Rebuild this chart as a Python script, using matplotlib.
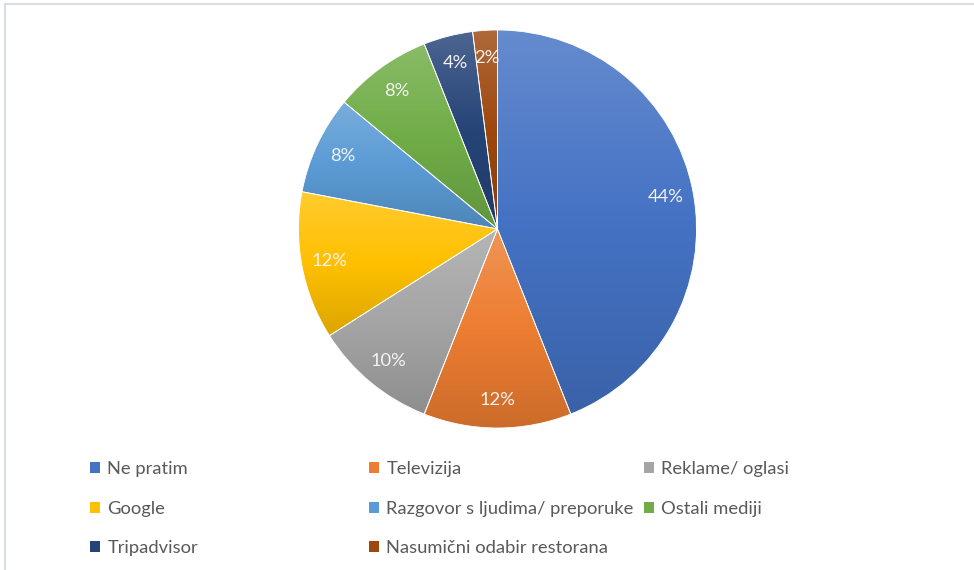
import matplotlib
matplotlib.use("Agg")
import matplotlib.pyplot as plt
import matplotlib.colors as mcolors
from matplotlib.patches import Patch, Rectangle
import numpy as np

# Data
labels = ["Ne pratim", "Televizija", "Reklame/ oglasi", "Google",
          "Razgovor s ljudima/ preporuke", "Ostali mediji", "Tripadvisor",
          "Nasumični odabir restorana"]
values = [44, 12, 10, 12, 8, 8, 4, 2]
colors = ["#4472C4", "#ED7D31", "#A5A5A5", "#FFC000",
          "#5B9BD5", "#70AD47", "#264478", "#9E480E"]

plt.rcParams['font.family'] = ['Lato', 'DejaVu Sans']

W, H = 974, 570
fig = plt.figure(figsize=(W / 100, H / 100), dpi=100)

# pie placement in pixels
cx, cy, r = 497.5, 229, 199
ax = fig.add_axes([(cx - r) / W, (H - cy - r) / H, 2 * r / W, 2 * r / H])

wedges, texts, autotexts = ax.pie(
    values, colors=colors, startangle=90, counterclock=False,
    autopct=lambda p: f"{p:.0f}%", pctdistance=0.86,
    wedgeprops=dict(edgecolor="white", linewidth=0.6),
    textprops=dict(color="#F2F2F2", fontsize=13.2),
)


def gradient_colors(base, n=256):
    """Excel-like vertical gradient: lighter top, base middle, darker bottom"""
    c = np.array(mcolors.to_rgb(base))
    top = c + (1 - c) * 0.18
    bottom = c * 0.86
    t = np.linspace(0, 1, n)[:, None]
    upper = top + (c - top) * np.clip(t * 2, 0, 1)
    lower = c + (bottom - c) * np.clip(t * 2 - 1, 0, 1)
    g = np.where(t < 0.5, upper, lower)
    return g[:, None, :]


# fill each wedge with its own gradient, clipped to the wedge
for w, col in zip(wedges, colors):
    ext = w.get_path().get_extents()
    im = ax.imshow(gradient_colors(col), extent=(ext.x0, ext.x1, ext.y0, ext.y1),
                   origin="upper", aspect="auto", interpolation="bilinear", zorder=0.5)
    im.set_clip_path(w)
    w.set_facecolor("none")

ax.set_xlim(-1, 1)
ax.set_ylim(-1, 1)
ax.set_aspect("equal")
ax.axis("off")

# legend laid out row-major in three equal columns, like the original
col_x = [90 / W, 369 / W, 644 / W]
for c in range(3):
    handles = [Patch(facecolor=colors[i], edgecolor="none") for i in range(c, len(labels), 3)]
    fig.legend(
        handles, labels[c::3], loc="upper left",
        bbox_to_anchor=(col_x[c], 1 - 461 / H), frameon=False,
        fontsize=13.2, labelcolor="#595959", handlelength=0.55, handleheight=0.55,
        handletextpad=0.4, borderpad=0, borderaxespad=0, labelspacing=1.29,
    )

# chart area border (only top and left edges are inside the picture)
fig.add_artist(Rectangle((5 / W, -0.05), 1.1, 1.05 - 4.5 / H, transform=fig.transFigure,
                         fill=False, edgecolor="#D9DDE5", linewidth=1.5))

fig.savefig("out.png", dpi=100)
plt.close()
